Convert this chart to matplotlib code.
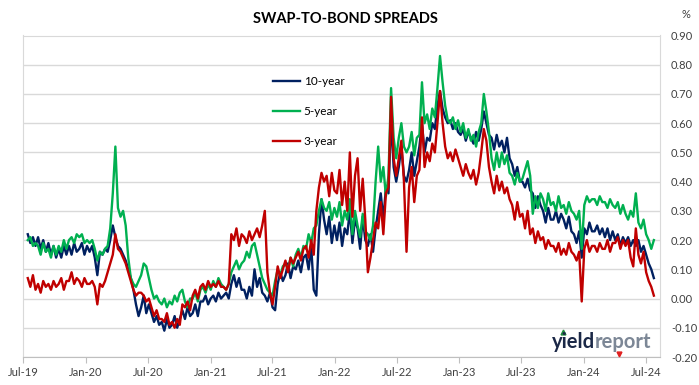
import numpy as np
import pandas as pd
import matplotlib
matplotlib.use('Agg')
import matplotlib.pyplot as plt
import matplotlib.dates as mdates
from matplotlib.lines import Line2D

plt.rcParams['font.family'] = ['Lato', 'DejaVu Sans']

# Spread readings in hundredths of a percent, four per month, Jul-19 .. Jul-24
ten_year = [
    22, 19, 21, 18,  21, 17, 20, 16,  19, 15, 18, 14,  17, 14, 18, 15,
    18, 15, 19, 16,  17, 19, 15, 18,  16, 18, 14, 8,   16, 15, 17, 16,
    20, 25, 21, 18,  17, 15, 13, 10,  7, 3, -2, -6,    -3, 1, -5, -2,
    -5, -8, -6, -9,  -8, -11, -7, -10, -9, -6, -10, -7, -4, -7, -3, -6,
    -5, -2, -6, -1,  -1, 1, -2, 0,    1, -1, 2, 0,     1, 2, 0, 5,
    8, 4, 7, 3,      3, 0, 4, 1,      10, 4, 7, 2,     1, -1, 2, -3,
    -4, 5, 9, 6,     8, 12, 7, 11,    10, 13, 9, 14,   15, 10, 18, 3,
    1, 22, 34, 27,   22, 28, 19, 25,  20, 26, 18, 24,  22, 30, 19, 27,
    24, 17, 28, 20,  18, 22, 16, 24,  30, 36, 27, 38,  36, 62, 45, 40,
    45, 52, 42, 40,  44, 50, 42, 47,  52, 60, 50, 55,  54, 60, 58, 66,
    71, 65, 62, 60,  61, 58, 60, 57,  56, 58, 54, 57,  55, 53, 57, 54,
    58, 64, 60, 56,  55, 51, 56, 52,  54, 50, 55, 48,  46, 42, 45, 40,
    40, 38, 41, 37,  36, 31, 35, 32,  30, 26, 31, 27,  27, 30, 26, 29,
    27, 24, 28, 23,  22, 19, 23, 14,  24, 22, 26, 23,  23, 25, 22, 24,
    21, 24, 20, 23,  20, 22, 18, 21,  19, 21, 18, 20,  18, 20, 16, 18,
    15, 12, 10, 7,
]
five_year = [
    20, 21, 18, 19,  18, 15, 19, 16,  17, 14, 18, 15,  18, 16, 20, 17,
    20, 21, 19, 22,  21, 22, 19, 20,  19, 20, 17, 13,  16, 15, 17, 18,
    24, 36, 52, 31,  28, 30, 25, 14,  7, 5, 4, 6,      8, 12, 11, 7,
    3, 0, 1, -1,     -2, 0, -3, -1,   -2, 1, -1, 2,    3, -1, -3, 0,
    0, 2, -1, 3,     4, 2, 5, 3,      6, 4, 7, 5,      4, 3, 5, 9,
    11, 13, 10, 12,  13, 16, 14, 18,  19, 15, 11, 7,   5, 3, 2, 1,
    6, 10, 8, 11,    12, 10, 14, 11,  15, 17, 14, 18,  17, 22, 19, 24,
    25, 30, 34, 31,  30, 33, 27, 31,  28, 33, 25, 30,  27, 34, 22, 30,
    25, 21, 29, 23,  22, 20, 25, 40,  52, 40, 45, 35,  42, 72, 55, 48,
    55, 60, 52, 50,  52, 57, 49, 55,  56, 74, 60, 63,  58, 65, 62, 72,
    83, 74, 66, 61,  60, 62, 58, 61,  57, 60, 55, 58,  54, 56, 52, 57,
    60, 70, 64, 57,  48, 44, 50, 45,  50, 46, 49, 43,  42, 39, 43, 40,
    41, 44, 47, 42,  29, 35, 31, 36,  34, 30, 36, 32,  33, 30, 35, 31,
    32, 29, 33, 30,  29, 27, 30, 17,  32, 35, 33, 34,  34, 32, 35, 33,
    33, 31, 34, 32,  31, 33, 29, 32,  29, 27, 30, 28,  36, 26, 24, 27,
    22, 20, 17, 20,
]
three_year = [
    7, 4, 8, 3,      5, 2, 6, 4,      5, 3, 6, 4,      5, 7, 3, 6,
    6, 9, 5, 7,      6, 4, 7, 5,      5, 6, 4, -2,     5, 4, 6, 9,
    12, 15, 22, 17,  16, 14, 12, 9,   6, 3, 1, 2,      2, 1, -1, 0,
    -3, -6, -4, -7,  -7, -8, -5, -9,  -8, -10, -7, -9, -2, -3, -1, -4,
    1, 3, 0, 4,      5, 3, 6, 4,      5, 4, 6, 4,      4, 3, 5, 22,
    20, 24, 18, 22,  21, 19, 23, 20,  22, 24, 21, 25,  30, 9, 2, -2,
    4, 11, 7, 10,    13, 9, 14, 12,   14, 16, 13, 17,  18, 14, 20, 15,
    30, 38, 43, 40,  42, 35, 43, 37,  36, 44, 32, 40,  30, 50, 28, 42,
    48, 30, 41, 27,  9, 14, 20, 26,   24, 33, 22, 36,  38, 69, 48, 42,
    48, 54, 40, 16,  38, 45, 33, 42,  44, 62, 45, 50,  47, 53, 50, 60,
    71, 60, 52, 48,  50, 47, 51, 48,  45, 42, 46, 43,  41, 44, 39, 43,
    50, 58, 54, 45,  40, 36, 42, 37,  40, 36, 38, 34,  32, 27, 33, 28,
    29, 24, 30, 22,  24, 19, 23, 20,  21, 17, 20, 18,  18, 16, 19, 15,
    17, 15, 19, 16,  15, 13, 16, -1,  17, 20, 16, 18,  18, 16, 19, 17,
    17, 20, 16, 19,  19, 21, 17, 20,  18, 20, 14, 11,  24, 15, 12, 16,
    9, 6, 4, 1,
]

series = [('10-year', ten_year, '#002060'),
          ('5-year', five_year, '#00B050'),
          ('3-year', three_year, '#C00000')]

first_day = pd.Timestamp('2019-07-15')
last_day = pd.Timestamp('2024-07-24')
dates = pd.to_datetime(np.linspace(first_day.value, last_day.value, len(ten_year)))

W, H = 699, 385
fig = plt.figure(figsize=(W / 100, H / 100), dpi=100)
ax = fig.add_axes([23 / W, 1 - 357 / H, (660 - 23) / W, (357 - 35.5) / H])

for name, vals, col in series:
    ax.plot(dates, np.array(vals) / 100, color=col, lw=1.7, label=name)

ax.set_xlim(pd.Timestamp('2019-07-01'), pd.Timestamp('2024-08-11'))
ax.set_ylim(-0.2, 0.9)

yticks = np.round(np.arange(-2, 10) / 10, 2)
ax.set_yticks(yticks)
ax.set_yticklabels(['{:.2f}'.format(v) for v in yticks])
ax.yaxis.tick_right()
ax.tick_params(axis='y', length=0, pad=8, labelsize=8, labelcolor='#404040')

ax.xaxis.set_major_locator(mdates.MonthLocator(bymonth=[1, 7]))
ax.xaxis.set_major_formatter(mdates.DateFormatter('%b-%y'))
ax.tick_params(axis='x', direction='out', length=4, color='#BFBFBF',
               labelsize=8, labelcolor='#404040', pad=3)

ax.grid(axis='y', color='#D9D9D9', lw=1)
ax.set_axisbelow(True)
for side in ['left', 'top', 'right']:
    ax.spines[side].set_color('#D9D9D9')
ax.spines['bottom'].set_color('#BFBFBF')

ax.legend(loc='upper left', bbox_to_anchor=(273 / W, 1 - 76 / H),
          bbox_transform=fig.transFigure, frameon=False, fontsize=8.5,
          borderpad=0, borderaxespad=0, handlelength=2.3, handletextpad=0.3,
          labelspacing=1.6)

fig.text(345 / W, 1 - 19 / H, 'SWAP-TO-BOND SPREADS', ha='center', va='center',
         fontsize=10.5, fontweight='bold')
fig.text(686 / W, 1 - 14 / H, '%', ha='center', va='center', fontsize=8,
         color='#404040')

# yieldreport watermark
fig.text(595 / W, 1 - 342 / H, 'yield', ha='right', va='center', fontsize=14.5,
         fontweight='bold', color='#1B2847')
fig.text(595 / W, 1 - 342 / H, 'report', ha='left', va='center', fontsize=14.5,
         fontweight='bold', color='#7C8796')
fig.add_artist(Line2D([563 / W], [1 - 332 / H], marker='^', markersize=3.5,
                      color='#1E8A3C', transform=fig.transFigure))
fig.add_artist(Line2D([619 / W], [1 - 354 / H], marker='v', markersize=3.5,
                      color='#E02020', transform=fig.transFigure))

fig.savefig('out.png', dpi=100)
